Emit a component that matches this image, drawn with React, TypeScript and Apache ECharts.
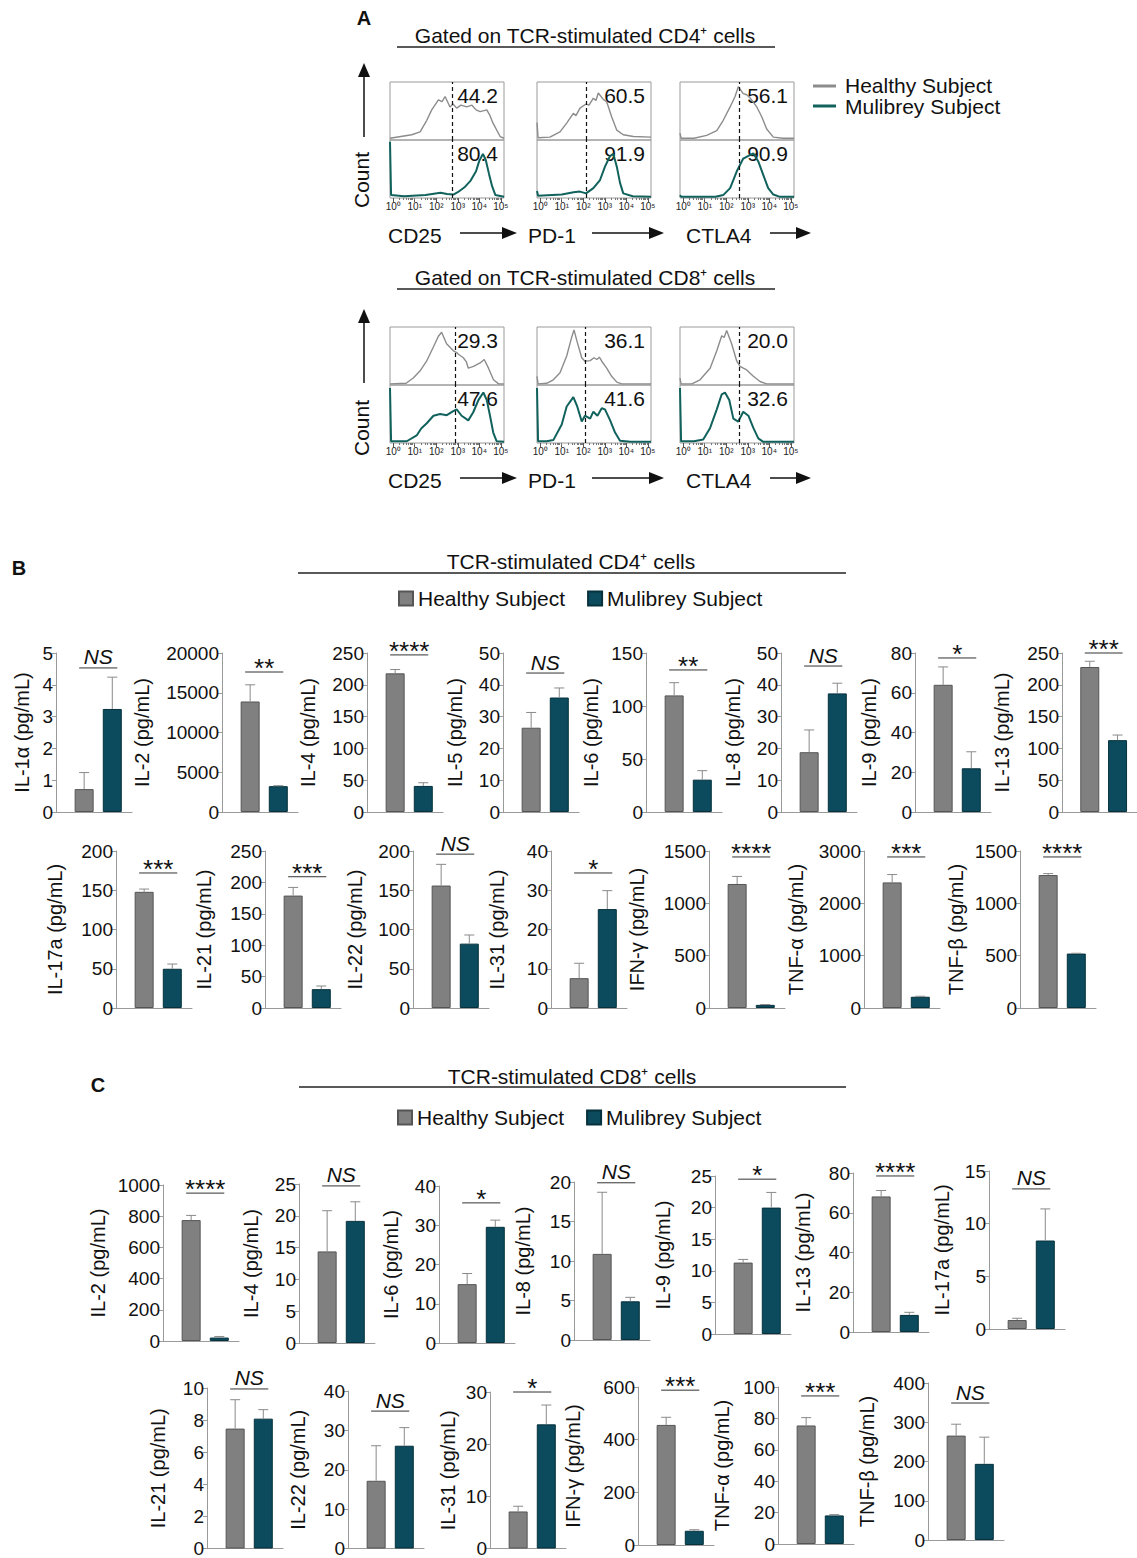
import React, { useEffect, useRef } from 'react';
import * as echarts from 'echarts';

const FONT = "'Liberation Sans', Arial, Helvetica, sans-serif";
const INK = '#111111';
const GRAY = '#808080';
const GRAY_EDGE = '#555555';
const TEAL = '#0b4b5d';
const TEAL_EDGE = '#06313d';
const HIST_GRAY = '#8c8c8c';
const HIST_TEAL = '#11625d';
const AXIS_GRAY = '#9a9a9a';
const ERR_GRAY = '#8a8a8a';

// ---------------- Panel A: flow histograms ----------------
const HIST_MARKERS = ['CD25', 'PD-1', 'CTLA4'];
const DECADES = [0, 1, 2, 3, 4, 5];
const DECADE_LABELS = ['10⁰', '10¹', '10²', '10³', '10⁴', '10⁵'];
const CD4_GATES = [2.73, 2.13, 2.59];
const CD8_GATES = [2.87, 2.08, 2.59];
const CD4_HEALTHY_PCT = ['44.2', '60.5', '56.1'];
const CD4_MULIBREY_PCT = ['80.4', '91.9', '90.9'];
const CD8_HEALTHY_PCT = ['29.3', '36.1', '20.0'];
const CD8_MULIBREY_PCT = ['47.6', '41.6', '32.6'];

// [log10 fluorescence, normalised count]
const CD4_CD25_HEALTHY = [[-0.15, 0.03], [0.86, 0.09], [1.25, 0.14], [1.56, 0.34], [1.79, 0.52], [2.1, 0.69], [2.27, 0.66], [2.41, 0.75], [2.64, 0.57], [2.78, 0.62], [2.95, 0.55], [3.15, 0.6], [3.42, 0.57], [3.66, 0.6], [3.85, 0.52], [4.04, 0.49], [4.35, 0.52], [4.5, 0.42], [4.64, 0.29], [4.97, 0.06], [5.15, 0.03]];
const CD4_CD25_MULIBREY = [[-0.15, 0.97], [-0.1, 0.05], [0.5, 0.03], [1.5, 0.05], [2.2, 0.09], [2.5, 0.07], [2.8, 0.06], [3.0, 0.1], [3.3, 0.18], [3.6, 0.3], [3.85, 0.46], [4.0, 0.64], [4.17, 0.76], [4.3, 0.66], [4.45, 0.42], [4.6, 0.2], [4.75, 0.05], [5.15, 0.02]];
const CD4_PD1_HEALTHY = [[-0.15, 0.3], [-0.1, 0.04], [0.45, 0.05], [0.92, 0.14], [1.23, 0.29], [1.54, 0.46], [1.66, 0.42], [1.85, 0.55], [2.13, 0.62], [2.27, 0.6], [2.47, 0.72], [2.59, 0.68], [2.7, 0.81], [2.93, 0.7], [3.09, 0.66], [3.32, 0.4], [3.56, 0.17], [3.86, 0.09], [4.33, 0.06], [5.15, 0.05]];
const CD4_PD1_MULIBREY = [[-0.15, 0.12], [-0.1, 0.04], [1.0, 0.06], [1.55, 0.1], [1.85, 0.11], [2.13, 0.08], [2.47, 0.17], [2.78, 0.31], [3.01, 0.54], [3.24, 0.72], [3.4, 0.76], [3.56, 0.54], [3.71, 0.26], [3.86, 0.08], [4.3, 0.03], [5.15, 0.02]];
const CD4_CTLA4_HEALTHY = [[-0.15, 0.12], [-0.1, 0.03], [0.5, 0.03], [1.09, 0.08], [1.56, 0.16], [1.86, 0.34], [2.18, 0.57], [2.41, 0.75], [2.56, 0.92], [2.79, 0.8], [2.95, 0.78], [3.1, 0.73], [3.42, 0.57], [3.65, 0.4], [3.88, 0.19], [4.19, 0.05], [4.64, 0.03], [5.15, 0.03]];
const CD4_CTLA4_MULIBREY = [[-0.15, 0.05], [-0.1, 0.02], [1.5, 0.02], [1.86, 0.05], [2.18, 0.17], [2.49, 0.46], [2.79, 0.68], [3.1, 0.74], [3.26, 0.77], [3.49, 0.63], [3.72, 0.4], [3.95, 0.17], [4.19, 0.06], [4.5, 0.02], [5.15, 0.02]];

const CD8_CD25_HEALTHY = [[-0.15, 0.02], [0.6, 0.03], [0.93, 0.12], [1.24, 0.24], [1.55, 0.41], [1.86, 0.65], [2.1, 0.84], [2.25, 0.91], [2.48, 0.71], [2.8, 0.59], [2.95, 0.56], [3.03, 0.53], [3.26, 0.47], [3.4, 0.4], [3.49, 0.29], [3.73, 0.32], [4.04, 0.38], [4.23, 0.44], [4.43, 0.29], [4.66, 0.09], [4.9, 0.02], [5.15, 0.02]];
const CD8_CD25_MULIBREY = [[-0.15, 0.95], [-0.1, 0.03], [0.63, 0.03], [1.09, 0.13], [1.3, 0.25], [1.56, 0.34], [1.87, 0.47], [2.18, 0.5], [2.49, 0.48], [2.79, 0.55], [2.95, 0.58], [3.18, 0.47], [3.49, 0.39], [3.72, 0.53], [3.96, 0.74], [4.19, 0.87], [4.35, 0.74], [4.5, 0.47], [4.65, 0.18], [4.81, 0.03], [5.15, 0.02]];
const CD8_PD1_HEALTHY = [[-0.15, 0.15], [-0.1, 0.02], [0.3, 0.03], [0.61, 0.09], [0.92, 0.21], [1.23, 0.5], [1.46, 0.82], [1.57, 0.95], [1.72, 0.74], [1.93, 0.47], [2.08, 0.41], [2.32, 0.42], [2.5, 0.47], [2.63, 0.44], [2.75, 0.48], [2.86, 0.41], [3.09, 0.29], [3.32, 0.15], [3.56, 0.05], [3.79, 0.02], [5.15, 0.02]];
const CD8_PD1_MULIBREY = [[-0.15, 0.95], [-0.1, 0.03], [0.3, 0.03], [0.61, 0.05], [1.0, 0.32], [1.23, 0.63], [1.54, 0.79], [1.72, 0.63], [1.93, 0.37], [2.08, 0.47], [2.32, 0.42], [2.47, 0.54], [2.66, 0.47], [2.86, 0.6], [3.01, 0.58], [3.25, 0.39], [3.48, 0.18], [3.71, 0.04], [4.2, 0.02], [5.15, 0.02]];
const CD8_CTLA4_HEALTHY = [[-0.15, 0.12], [-0.1, 0.02], [0.4, 0.02], [0.78, 0.09], [1.25, 0.29], [1.56, 0.59], [1.79, 0.85], [1.9, 0.82], [2.02, 0.94], [2.25, 0.71], [2.49, 0.41], [2.64, 0.32], [2.95, 0.26], [3.26, 0.15], [3.57, 0.06], [3.88, 0.02], [5.15, 0.02]];
const CD8_CTLA4_MULIBREY = [[-0.15, 0.95], [-0.1, 0.03], [0.5, 0.03], [0.93, 0.06], [1.25, 0.26], [1.56, 0.58], [1.79, 0.84], [1.94, 0.87], [2.14, 0.74], [2.33, 0.42], [2.56, 0.37], [2.79, 0.54], [3.03, 0.47], [3.26, 0.26], [3.49, 0.08], [3.72, 0.02], [5.15, 0.02]];

// ---------------- Panel B: CD4 cytokines ----------------
const CD4_CYTOKINES = ['IL-1α', 'IL-2', 'IL-4', 'IL-5', 'IL-6', 'IL-8', 'IL-9', 'IL-13', 'IL-17a', 'IL-21', 'IL-22', 'IL-31', 'IFN-γ', 'TNF-α', 'TNF-β'];
const CD4_HEALTHY = [0.72, 13900, 218, 26.5, 110, 18.8, 64, 228, 148, 179, 156, 7.6, 1185, 2400, 1270];
const CD4_HEALTHY_SEM = [0.52, 2100, 6, 4.8, 12, 7, 9, 9, 3.5, 13, 27, 3.8, 72, 150, 14];
const CD4_MULIBREY = [3.24, 3250, 41, 36, 30.5, 37.3, 22, 113, 50, 30, 82, 25.2, 30, 215, 520];
const CD4_MULIBREY_SEM = [1.0, 60, 5, 3, 8.5, 3.2, 8.3, 8, 6, 5, 11, 4.7, 3, 9, 3];
const CD4_AXIS_MAX = [5, 20000, 250, 50, 150, 50, 80, 250, 200, 250, 200, 40, 1500, 3000, 1500];
const CD4_AXIS_STEP = [1, 5000, 50, 10, 50, 10, 20, 50, 50, 50, 50, 10, 500, 1000, 500];
const CD4_SIG = ['NS', '**', '****', 'NS', '**', 'NS', '*', '***', '***', '***', 'NS', '*', '****', '***', '****'];
const CD4_SIG_Y = [4.53, 17610, 247, 43.7, 134, 45.9, 77.5, 250, 172, 209, 196, 34.4, 1443, 2886, 1443];

// ---------------- Panel C: CD8 cytokines ----------------
const CD8_CYTOKINES = ['IL-2', 'IL-4', 'IL-6', 'IL-8', 'IL-9', 'IL-13', 'IL-17a', 'IL-21', 'IL-22', 'IL-31', 'IFN-γ', 'TNF-α', 'TNF-β'];
const CD8_HEALTHY = [775, 14.4, 15, 10.9, 11.3, 68.2, 0.85, 7.47, 17.2, 7.1, 456, 75.5, 266];
const CD8_HEALTHY_SEM = [30, 6.4, 2.7, 7.8, 0.5, 3, 0.17, 1.8, 8.9, 1, 29, 5, 29];
const CD8_MULIBREY = [22, 19.2, 29.6, 4.9, 20, 8.6, 8.4, 8.09, 26.1, 23.8, 54, 18.2, 194];
const CD8_MULIBREY_SEM = [7, 3, 1.7, 0.5, 2.4, 1.3, 3, 0.56, 4.6, 3.7, 4, 0.5, 68];
const CD8_AXIS_MAX = [1000, 25, 40, 20, 25, 80, 15, 10, 40, 30, 600, 100, 400];
const CD8_AXIS_STEP = [200, 5, 10, 5, 5, 20, 5, 2, 10, 10, 200, 20, 100];
const CD8_SIG = ['****', 'NS', '*', 'NS', '*', '****', 'NS', 'NS', 'NS', '*', '***', '***', 'NS'];
const CD8_SIG_Y = [948, 24.7, 35.7, 19.9, 24.5, 78.5, 13.3, 9.94, 34.9, 30, 588, 94.3, 349];

const SUBJECTS = ['Healthy Subject', 'Mulibrey Subject'];

// ---------------- Layout (pixels) ----------------
const HIST_LEFT = [390, 537, 680];
const HIST_W = 114;
const HIST_HALF = 58;
const HIST_ROW_TOP = [82, 327];

const CD4_LEFT = [56, 222, 367, 503, 646, 781, 915, 1062, 116, 265, 413, 551, 709, 864, 1020];
const CD4_TITLE_X = [22, 142, 308, 455, 591, 733, 869, 1002, 55, 204, 355, 497, 637, 796, 956];
const CD4_TOP = [653, 653, 653, 653, 653, 653, 653, 653, 851, 851, 851, 851, 851, 851, 851];
const CD4_BASE = [812, 812, 812, 812, 812, 812, 812, 812, 1008, 1008, 1008, 1008, 1008, 1008, 1008];
const CD8_LEFT = [163, 299, 439, 574, 715, 853, 989, 207, 348, 490, 638, 778, 928];
const CD8_TITLE_X = [98, 251, 391, 523, 663, 803, 942, 158, 298, 448, 573, 722, 867];
const CD8_TOP = [1185, 1184, 1186, 1182, 1176, 1173, 1171, 1388, 1391, 1392, 1387, 1387, 1383];
const CD8_BASE = [1341, 1343, 1343, 1340, 1334, 1332, 1329, 1549, 1549, 1549, 1545, 1544, 1540];
const BAR_PLOT_W = 76;

function buildOption() {
  const grids: any[] = [];
  const xAxes: any[] = [];
  const yAxes: any[] = [];
  const series: any[] = [];
  const graphics: any[] = [];

  const txt = (text: string, x: number, y: number, o: any = {}) => ({
    type: 'text', x, y, rotation: o.rotation || 0, silent: true,
    style: {
      text, fill: INK, fontFamily: FONT, fontSize: o.size || 20, fontWeight: o.weight || 'normal',
      fontStyle: o.style || 'normal', align: o.align || 'center', verticalAlign: o.valign || 'middle',
    },
  });
  const seg = (x1: number, y1: number, x2: number, y2: number, stroke = '#222', w = 1.2) => ({
    type: 'line', silent: true, shape: { x1, y1, x2, y2 }, style: { stroke, lineWidth: w },
  });

  // ---------- Panel A ----------
  const minorTicks: number[] = [];
  for (let d = 0; d < 5; d++) for (let k = 2; k <= 9; k++) minorTicks.push(d + Math.log10(k));

  const histRows = [
    { gates: CD4_GATES, hp: CD4_HEALTHY_PCT, mp: CD4_MULIBREY_PCT,
      healthy: [CD4_CD25_HEALTHY, CD4_PD1_HEALTHY, CD4_CTLA4_HEALTHY],
      mulibrey: [CD4_CD25_MULIBREY, CD4_PD1_MULIBREY, CD4_CTLA4_MULIBREY] },
    { gates: CD8_GATES, hp: CD8_HEALTHY_PCT, mp: CD8_MULIBREY_PCT,
      healthy: [CD8_CD25_HEALTHY, CD8_PD1_HEALTHY, CD8_CTLA4_HEALTHY],
      mulibrey: [CD8_CD25_MULIBREY, CD8_PD1_MULIBREY, CD8_CTLA4_MULIBREY] },
  ];

  histRows.forEach((row, r) => {
    const top = HIST_ROW_TOP[r];
    for (let c = 0; c < 3; c++) {
      const left = HIST_LEFT[c];
      const halves = [
        { data: row.healthy[c], color: HIST_GRAY, t: top, width: 1.4 },
        { data: row.mulibrey[c], color: HIST_TEAL, t: top + HIST_HALF, width: 2 },
      ];
      halves.forEach((h, hi) => {
        const gi = grids.length;
        grids.push({ left, top: h.t, width: HIST_W, height: HIST_HALF, show: true, borderColor: AXIS_GRAY, borderWidth: 1, backgroundColor: 'transparent' });
        const isBottom = hi === 1;
        xAxes.push({
          type: 'value', gridIndex: gi, min: -0.15, max: 5.15, position: 'bottom',
          show: isBottom,
          axisLine: { show: false },
          axisTick: { show: true, length: 4, customValues: DECADES, lineStyle: { color: '#555' } },
          axisLabel: {
            show: true, customValues: DECADES, fontSize: 10, color: '#222', fontFamily: FONT, margin: 3,
            formatter: (v: number) => { const i = DECADES.indexOf(v); return i >= 0 ? DECADE_LABELS[i] : ''; },
          },
          splitLine: { show: false },
        });
        const xi = xAxes.length - 1;
        if (isBottom) {
          xAxes.push({
            type: 'value', gridIndex: gi, min: -0.15, max: 5.15, position: 'bottom',
            axisLine: { show: false },
            axisTick: { show: true, length: 2, customValues: minorTicks, lineStyle: { color: '#777' } },
            axisLabel: { show: false },
            splitLine: { show: false },
          });
        }
        yAxes.push({ type: 'value', gridIndex: gi, min: 0, max: 1, show: false, splitLine: { show: false } });
        series.push({
          type: 'line', name: hi === 0 ? 'Healthy histogram' : 'Mulibrey histogram',
          xAxisIndex: xi, yAxisIndex: gi, data: h.data, showSymbol: false, symbol: 'none', silent: true,
          lineStyle: { color: h.color, width: h.width }, z: 3,
          markLine: {
            silent: true, symbol: ['none', 'none'], label: { show: false },
            lineStyle: { type: [4, 3], color: '#111', width: 1.2 },
            data: [{ xAxis: row.gates[c] }],
          },
        });
      });
      graphics.push(txt(row.hp[c], left + HIST_W - 6, top + 13, { align: 'right', size: 21 }));
      graphics.push(txt(row.mp[c], left + HIST_W - 6, top + HIST_HALF + 13, { align: 'right', size: 21 }));
    }
  });

  // Panel A decorations
  graphics.push(txt('A', 364, 18, { weight: 'bold', size: 20 }));
  const aTitles = [{ t: 'Gated on TCR-stimulated CD4⁺ cells', y: 35, ly: 47 }, { t: 'Gated on TCR-stimulated CD8⁺ cells', y: 277, ly: 289 }];
  aTitles.forEach((a) => {
    graphics.push(txt(a.t, 585, a.y, { size: 21 }));
    graphics.push(seg(397, a.ly, 775, a.ly, '#222', 1.3));
  });
  const countY = [180, 428];
  const arrowTop = [63, 309];
  const xLabelY = [235, 480];
  const arrowsX = [[460, 517], [592, 664], [770, 811]];
  const labelsX = [388, 528, 686];
  for (let r = 0; r < 2; r++) {
    graphics.push(txt('Count', 361, countY[r], { rotation: Math.PI / 2, size: 21 }));
    const at = arrowTop[r];
    graphics.push(seg(364, at + 12, 364, at + 74, '#111', 1.5));
    graphics.push({ type: 'polygon', silent: true, shape: { points: [[358, at + 14], [370, at + 14], [364, at]] }, style: { fill: '#111' } });
    for (let c = 0; c < 3; c++) {
      const y = xLabelY[r];
      graphics.push(txt(HIST_MARKERS[c], labelsX[c], y, { align: 'left', size: 21 }));
      const [x1, x2] = arrowsX[c];
      graphics.push(seg(x1, y - 2, x2 - 13, y - 2, '#111', 1.5));
      graphics.push({ type: 'polygon', silent: true, shape: { points: [[x2 - 15, y - 8], [x2 - 15, y + 4], [x2, y - 2]] }, style: { fill: '#111' } });
    }
  }
  // Panel A legend
  graphics.push(seg(813, 86, 836, 86, HIST_GRAY, 3));
  graphics.push(txt(SUBJECTS[0], 845, 85, { align: 'left', size: 21 }));
  graphics.push(seg(813, 106, 836, 106, HIST_TEAL, 3));
  graphics.push(txt(SUBJECTS[1], 845, 106, { align: 'left', size: 21 }));

  // ---------- Bar panels ----------
  const errRender = (params: any, api: any) => {
    const x = api.value(0);
    const p0 = api.coord([x, api.value(1)]);
    const p1 = api.coord([x, api.value(2)]);
    return {
      type: 'group',
      children: [
        { type: 'line', shape: { x1: p0[0], y1: p0[1], x2: p1[0], y2: p1[1] }, style: { stroke: ERR_GRAY, lineWidth: 1 } },
        { type: 'line', shape: { x1: p1[0] - 5, y1: p1[1], x2: p1[0] + 5, y2: p1[1] }, style: { stroke: ERR_GRAY, lineWidth: 1 } },
      ],
    };
  };
  const sigRender = (label: string) => (params: any, api: any) => {
    const y = api.value(1);
    const a = api.coord([1, y]);
    const b = api.coord([2, y]);
    const isNS = label === 'NS';
    return {
      type: 'group',
      children: [
        { type: 'line', shape: { x1: a[0] - 5, y1: a[1], x2: b[0] + 5, y2: a[1] }, style: { stroke: '#333', lineWidth: 1 } },
        {
          type: 'text', x: (a[0] + b[0]) / 2, y: a[1] - (isNS ? 11 : 4),
          style: {
            text: label, fill: INK, fontFamily: FONT, fontSize: isNS ? 21 : 26, fontStyle: isNS ? 'italic' : 'normal',
            align: 'center', verticalAlign: 'middle',
          },
        },
      ],
    };
  };

  const addBars = (names: string[], hv: number[], hs: number[], mv: number[], ms: number[], maxes: number[], steps: number[], sig: string[], sigY: number[], lefts: number[], titleX: number[], tops: number[], bases: number[]) => {
    names.forEach((name, i) => {
      const gi = grids.length;
      grids.push({ left: lefts[i], top: tops[i], width: BAR_PLOT_W, height: bases[i] - tops[i], show: false });
      xAxes.push({
        type: 'value', gridIndex: gi, min: 0, max: 2.7,
        axisLine: { show: true, onZero: false, lineStyle: { color: AXIS_GRAY, width: 1 } },
        axisTick: { show: false }, axisLabel: { show: false }, splitLine: { show: false },
      });
      const xi = xAxes.length - 1;
      yAxes.push({
        type: 'value', gridIndex: gi, min: 0, max: maxes[i], interval: steps[i],
        axisLine: { show: true, lineStyle: { color: AXIS_GRAY, width: 1 } },
        axisTick: { show: true, length: 4, lineStyle: { color: AXIS_GRAY } },
        axisLabel: { fontSize: 19, color: INK, fontFamily: FONT, margin: 3, formatter: (v: number) => String(v) },
        splitLine: { show: false },
        name: `${name} (pg/mL)`, nameLocation: 'middle', nameRotate: 90,
        nameGap: lefts[i] - titleX[i] - 10,
        nameTextStyle: { fontSize: 20, color: INK, fontFamily: FONT },
      });
      const yi = yAxes.length - 1;
      series.push({
        type: 'bar', name: SUBJECTS[0], xAxisIndex: xi, yAxisIndex: yi, data: [[1, hv[i]]],
        barWidth: 19, barGap: '-100%', silent: true,
        itemStyle: { color: GRAY, borderColor: GRAY_EDGE, borderWidth: 1 },
      });
      series.push({
        type: 'bar', name: SUBJECTS[1], xAxisIndex: xi, yAxisIndex: yi, data: [[2, mv[i]]],
        barWidth: 19, barGap: '-100%', silent: true,
        itemStyle: { color: TEAL, borderColor: TEAL_EDGE, borderWidth: 1 },
      });
      series.push({
        type: 'custom', name: 'SEM', xAxisIndex: xi, yAxisIndex: yi, silent: true, clip: false, z: 4,
        data: [[1, hv[i], hv[i] + hs[i]], [2, mv[i], mv[i] + ms[i]]],
        renderItem: errRender,
      });
      series.push({
        type: 'custom', name: 'significance', xAxisIndex: xi, yAxisIndex: yi, silent: true, clip: false, z: 4,
        data: [[1.5, sigY[i]]],
        renderItem: sigRender(sig[i]),
      });
    });
  };

  addBars(CD4_CYTOKINES, CD4_HEALTHY, CD4_HEALTHY_SEM, CD4_MULIBREY, CD4_MULIBREY_SEM, CD4_AXIS_MAX, CD4_AXIS_STEP, CD4_SIG, CD4_SIG_Y, CD4_LEFT, CD4_TITLE_X, CD4_TOP, CD4_BASE);
  addBars(CD8_CYTOKINES, CD8_HEALTHY, CD8_HEALTHY_SEM, CD8_MULIBREY, CD8_MULIBREY_SEM, CD8_AXIS_MAX, CD8_AXIS_STEP, CD8_SIG, CD8_SIG_Y, CD8_LEFT, CD8_TITLE_X, CD8_TOP, CD8_BASE);

  // Panel B / C headings
  graphics.push(txt('B', 19, 568, { weight: 'bold', size: 20 }));
  graphics.push(txt('TCR-stimulated CD4⁺ cells', 571, 561, { size: 21 }));
  graphics.push(seg(298, 573, 846, 573, '#222', 1.3));
  graphics.push(txt('C', 98, 1085, { weight: 'bold', size: 20 }));
  graphics.push(txt('TCR-stimulated CD8⁺ cells', 572, 1076, { size: 21 }));
  graphics.push(seg(299, 1087, 846, 1087, '#222', 1.3));

  const legendBase = {
    data: SUBJECTS, itemWidth: 14, itemHeight: 14, itemGap: 22, icon: 'rect', selectedMode: false,
    textStyle: { fontSize: 21, color: INK, fontFamily: FONT },
    padding: 0,
  };

  return {
    animation: false,
    backgroundColor: '#ffffff',
    textStyle: { fontFamily: FONT },
    legend: [
      { ...legendBase, left: 398, top: 588 },
      { ...legendBase, left: 397, top: 1107 },
    ],
    grid: grids,
    xAxis: xAxes,
    yAxis: yAxes,
    series,
    graphic: graphics,
  };
}

export default function App() {
  const ref = useRef<HTMLDivElement>(null);
  useEffect(() => {
    if (!ref.current) return;
    const chart = echarts.init(ref.current, undefined, { renderer: 'svg' });
    chart.setOption(buildOption() as any);
    return () => chart.dispose();
  }, []);
  return (
    <div style={{ position: 'absolute', left: 0, top: 0, width: 1137, height: 1558, background: '#fff' }}>
      <div ref={ref} style={{ width: 1137, height: 1558 }} />
    </div>
  );
}
